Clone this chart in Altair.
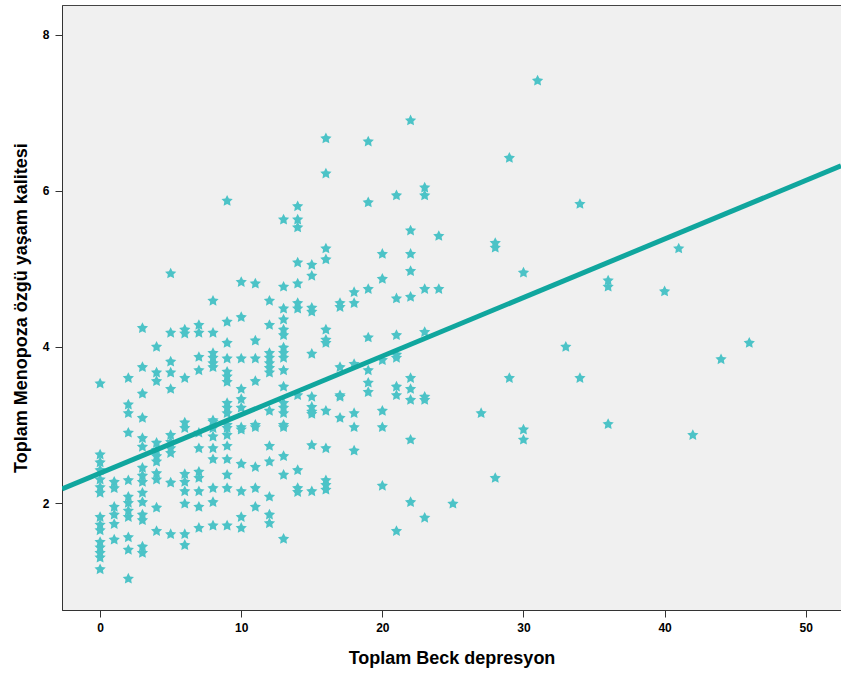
import altair as alt
import pandas as pd

# Beck depression score (x) and menopause-specific quality of life (y), read per x column
beck = {
    0: [3.53, 2.62, 2.52, 2.42, 2.3, 2.2, 2.13, 1.82, 1.72, 1.65, 1.5, 1.43, 1.36, 1.3, 1.15],
    1: [2.27, 2.19, 1.95, 1.85, 1.73, 1.53],
    2: [3.6, 3.26, 3.15, 2.9, 2.29, 2.08, 2.0, 1.9, 1.82, 1.56, 1.4, 1.03],
    3: [4.24, 3.74, 3.4, 3.09, 2.83, 2.72, 2.45, 2.35, 2.27, 2.13, 2.01, 1.85, 1.78, 1.44, 1.36],
    4: [4.0, 3.67, 3.56, 2.77, 2.68, 2.6, 2.53, 2.38, 2.3, 1.94, 1.64],
    5: [4.94, 4.18, 3.81, 3.67, 3.46, 2.87, 2.78, 2.7, 2.64, 2.26, 1.6],
    6: [4.22, 4.17, 3.6, 3.03, 2.96, 2.37, 2.27, 2.15, 1.99, 1.6, 1.46],
    7: [4.28, 4.18, 3.87, 3.7, 2.9, 2.7, 2.4, 2.32, 2.15, 1.95, 1.68],
    8: [4.59, 4.18, 3.92, 3.86, 3.79, 3.74, 3.06, 3.04, 2.96, 2.85, 2.7, 2.56, 2.19, 2.01, 1.71],
    9: [5.87, 4.32, 4.05, 3.85, 3.68, 3.62, 3.55, 3.28, 3.22, 3.15, 3.0, 2.96, 2.87, 2.73, 2.56, 2.36, 2.19, 1.71],
    10: [4.83, 4.38, 3.85, 3.46, 3.33, 3.22, 2.97, 2.94, 2.5, 2.15, 1.82, 1.68],
    11: [4.81, 4.08, 3.85, 3.56, 3.0, 2.97, 2.46, 2.19, 1.95],
    12: [4.59, 4.28, 3.92, 3.86, 3.79, 3.73, 3.67, 3.18, 2.73, 2.53, 2.08, 1.85, 1.74],
    13: [5.63, 4.77, 4.49, 4.35, 4.22, 4.15, 3.99, 3.92, 3.86, 3.7, 3.49, 3.28, 3.22, 3.15, 3.0, 2.97, 2.6, 2.36, 1.54],
    14: [5.8, 5.63, 5.53, 5.08, 4.81, 4.56, 4.49, 3.38, 2.42, 2.19, 2.14],
    15: [5.05, 4.91, 4.5, 4.45, 3.91, 3.36, 3.23, 3.17, 3.14, 2.74, 2.15],
    16: [6.67, 6.22, 5.26, 5.12, 4.22, 4.09, 4.05, 3.18, 2.7, 2.29, 2.23, 2.17],
    17: [4.56, 4.51, 3.74, 3.38, 3.36, 3.09],
    18: [4.7, 4.56, 3.78, 3.15, 2.97, 2.67],
    19: [6.63, 5.85, 4.74, 4.12, 3.7, 3.54, 3.42],
    20: [5.19, 4.87, 3.83, 3.18, 2.97, 2.22],
    21: [5.94, 4.62, 4.15, 3.9, 3.86, 3.49, 3.38, 1.64],
    22: [6.9, 5.49, 5.19, 4.97, 4.64, 3.6, 3.46, 3.32, 2.81, 2.01],
    23: [6.04, 5.94, 4.74, 4.19, 3.36, 3.32, 1.81],
    24: [5.42, 4.74],
    25: [1.99],
    27: [3.15],
    28: [5.33, 5.27, 2.32],
    29: [6.42, 3.6],
    30: [4.95, 2.94, 2.81],
    31: [7.41],
    33: [4.0],
    34: [5.83, 3.6],
    36: [4.85, 4.77, 3.01],
    40: [4.71],
    41: [5.26],
    42: [2.87],
    44: [3.84],
    46: [4.05],
}

x_vals = [k for k, vs in beck.items() for _ in vs]
y_vals = [v for vs in beck.values() for v in vs]
df = pd.DataFrame({"beck": x_vals, "mq": y_vals})

# fit line as drawn in the reference (value at each end of the x range)
fit_x = [-2.7, 52.5]
fit_y = [2.18, 6.32]
fit = pd.DataFrame({"beck": fit_x, "mq": fit_y})

x_domain = [-2.7, 52.5]
y_domain = [0.63, 8.38]
x_ticks = [0, 10, 20, 30, 40, 50]
y_ticks = [2, 4, 6, 8]

FONT = "Liberation Sans"
STAR = ("M0,-1 L0.294,-0.405 L0.951,-0.309 L0.476,0.155 L0.588,0.809 L0,0.5 "
        "L-0.588,0.809 L-0.476,0.155 L-0.951,-0.309 L-0.294,-0.405 Z")

xs = alt.Scale(domain=x_domain, nice=False, zero=False)
ys = alt.Scale(domain=y_domain, nice=False, zero=False)

x_enc = alt.X("beck:Q", scale=xs, title="Toplam Beck depresyon",
              axis=alt.Axis(values=x_ticks, format="d", grid=False, tickSize=7,
                            domainColor="#333333", tickColor="#333333", labelFont=FONT,
                            labelFontSize=12, labelFontWeight="bold", labelColor="#000000",
                            labelPadding=5, titleFont=FONT, titleFontSize=18,
                            titleFontWeight="bold", titleColor="#000000", titlePadding=16))
y_enc = alt.Y("mq:Q", scale=ys, title="Toplam Menopoza özgü yaşam kalitesi",
              axis=alt.Axis(values=y_ticks, format="d", grid=False, tickSize=7,
                            domainColor="#333333", tickColor="#333333", labelFont=FONT,
                            labelFontSize=12, labelFontWeight="bold", labelColor="#000000",
                            labelPadding=6, titleFont=FONT, titleFontSize=18,
                            titleFontWeight="bold", titleColor="#000000", titlePadding=12))

points = alt.Chart(df).mark_point(shape=STAR, filled=True, size=140, opacity=1,
                                  color="#4cc3c7").encode(x=x_enc, y=y_enc)

line = alt.Chart(fit).mark_line(color="#10a69e", strokeWidth=5, clip=True).encode(
    x=alt.X("beck:Q", scale=xs), y=alt.Y("mq:Q", scale=ys)
)

chart = alt.layer(points, line).properties(
    width=779, height=605,
    autosize=alt.AutoSizeParams(type="none"),
    padding={"left": 62, "top": 5, "right": 0, "bottom": 67},
    background="#ffffff",
).configure_view(fill="#f0f0f0", stroke="#444444", strokeWidth=1)

chart.save("out.html", embed_options={"renderer": "svg", "actions": False})
